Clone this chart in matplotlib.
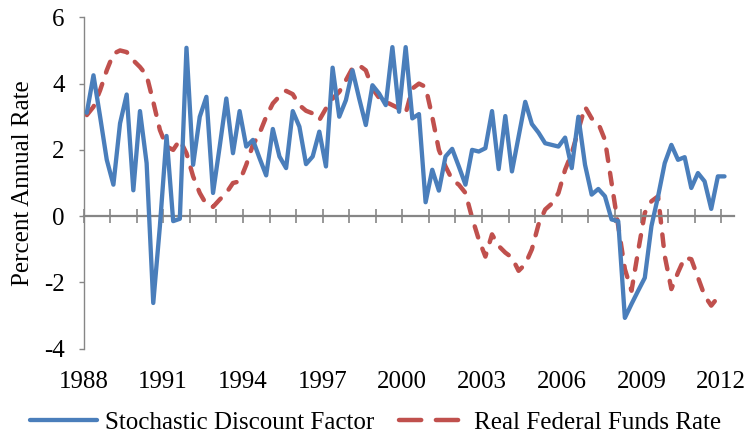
import numpy as np
import pandas as pd
import matplotlib
matplotlib.use('Agg')
import matplotlib.pyplot as plt
from matplotlib.ticker import MultipleLocator

# quarterly series, 1988Q1 onwards (percent annual rate)
sdf = [
    3.12, 4.25, 3.00, 1.70, 0.95, 2.80, 3.67, 0.78, 3.17, 1.60,
    -2.62, -0.30, 2.42, -0.15, -0.08, 5.08, 1.55, 3.00, 3.60, 0.70,
    2.10, 3.55, 1.90, 3.17, 2.10, 2.30, 1.75, 1.23, 2.63, 1.80,
    1.45, 3.17, 2.70, 1.57, 1.80, 2.55, 1.50, 4.48, 3.00, 3.50,
    4.40, 3.55, 2.75, 3.95, 3.70, 3.35, 5.10, 3.15, 5.10, 2.95,
    3.08, 0.42, 1.40, 0.77, 1.80, 2.03, 1.50, 0.95, 2.00, 1.95,
    2.05, 3.17, 1.42, 3.02, 1.35, 2.40, 3.45, 2.78, 2.52, 2.20,
    2.15, 2.10, 2.37, 1.45, 3.00, 1.55, 0.65, 0.82, 0.60, -0.10,
    -0.15, -3.07, -2.65, -2.25, -1.86, -0.30, 0.60, 1.60, 2.15, 1.70,
    1.78, 0.85, 1.30, 1.05, 0.22, 1.20, 1.20,
]
fed_funds = [
    3.05, 3.30, 3.80, 4.40, 4.90, 5.00, 4.95, 4.70, 4.50, 4.25,
    3.45, 2.60, 2.10, 2.00, 2.30, 1.90, 1.20, 0.70, 0.35, 0.28,
    0.50, 0.70, 1.00, 1.05, 1.55, 2.15, 2.50, 3.00, 3.40, 3.62,
    3.78, 3.68, 3.35, 3.18, 3.10, 2.90, 3.25, 3.55, 3.75, 4.10,
    4.47, 4.55, 4.40, 3.85, 3.57, 3.45, 3.35, 3.25, 3.10, 3.85,
    4.00, 3.90, 3.00, 2.00, 1.50, 1.10, 0.95, 0.70, -0.05, -0.70,
    -1.22, -0.55, -0.90, -1.10, -1.25, -1.65, -1.45, -1.00, -0.25, 0.20,
    0.38, 0.70, 1.40, 1.90, 2.60, 3.30, 2.95, 2.80, 2.30, 1.00,
    -0.30, -1.60, -2.25, -1.05, 0.10, 0.45, 0.60, -1.20, -2.20, -1.70,
    -1.25, -1.30, -1.85, -2.40, -2.70, -2.45,
]
series_names = ['Stochastic Discount Factor', 'Real Federal Funds Rate']
year_labels = list(range(1988, 2013, 3))
y_ticks = [-4, -2, 0, 2, 4, 6]


def quarter_positions(n):
    """Place each quarter in the middle of its slot on a year scale."""
    periods = pd.period_range('1988Q1', periods=n, freq='Q')
    return periods.year + (periods.quarter - 1) / 4 + 0.125


BLUE = '#4A7EBB'
RED = '#C0504D'
GREY = '#868686'
FONT = 18

plt.rcParams['font.family'] = ['Liberation Serif', 'DejaVu Serif']
plt.rcParams['font.size'] = FONT
plt.rcParams['axes.unicode_minus'] = False

fig = plt.figure(figsize=(7.51, 4.36), dpi=100)
ax = fig.add_axes([0.1112, 0.2002, 0.8668, 0.7601])

ax.plot(quarter_positions(len(sdf)), sdf, color=BLUE, lw=3.1,
        solid_joinstyle='round', solid_capstyle='round',
        label=series_names[0], zorder=3)
ax.plot(quarter_positions(len(fed_funds)), fed_funds, color=RED, lw=3.2,
        linestyle=(0, (2.6, 2.7)), dash_capstyle='round',
        dash_joinstyle='round', label=series_names[1], zorder=2)

ax.set_xlim(1988, 2012.5)
ax.set_ylim(min(y_ticks), max(y_ticks))
ax.set_yticks(y_ticks)
ax.set_ylabel('Percent Annual Rate', fontsize=FONT, labelpad=7)

for side in ('top', 'right'):
    ax.spines[side].set_visible(False)
ax.spines['left'].set_color(GREY)
ax.spines['left'].set_linewidth(1.0)
ax.spines['bottom'].set_position(('data', 0))
ax.spines['bottom'].set_color(GREY)
ax.spines['bottom'].set_linewidth(1.6)

# yearly tick marks crossing the zero line, labels shown below the plot
ax.xaxis.set_major_locator(MultipleLocator(1))
ax.tick_params(axis='x', direction='inout', length=10, width=1.2,
               color=GREY, labelbottom=False)
ax.tick_params(axis='y', direction='out', length=3.6, width=1.0,
               color=GREY, pad=10, labelsize=FONT)

sec = ax.secondary_xaxis('bottom')
sec.set_xticks(year_labels)
sec.spines['bottom'].set_visible(False)
sec.tick_params(axis='x', length=0, pad=16, labelsize=FONT)

leg = fig.legend(loc='center', bbox_to_anchor=(0.5, 0.03), ncol=2,
                 frameon=False, fontsize=FONT, handlelength=2.7,
                 handletextpad=0.3, columnspacing=1.0)
leg.get_lines()[1].set_linestyle((0, (5.0, 3.3)))

fig.savefig('out.png', dpi=100)
